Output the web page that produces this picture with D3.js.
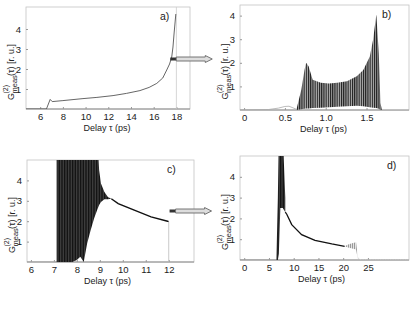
<!DOCTYPE html>
<html>
<head>
<meta charset="utf-8">
<script src="https://d3js.org/d3.v7.min.js"></script>
<style>
  body { margin: 0; background: #fff; }
  svg text { font-family: "Liberation Sans", Arial, sans-serif; fill: #222; }
</style>
</head>
<body>
<div id="chart"></div>
<script>
// ---- data ----
// panel a
const aX = [4.75, 6.55, 6.88, 7.06, 8.0, 9.77, 11.0, 12.42, 13.6, 14.79, 15.6, 16.27, 16.8, 17.15, 17.4, 17.59, 17.7, 17.8, 17.88, 17.95];
const aY = [0, 0, 0.48, 0.37, 0.42, 0.52, 0.58, 0.67, 0.78, 0.92, 1.08, 1.28, 1.55, 1.95, 2.25, 2.6, 3.1, 3.8, 4.3, 4.75];
const aMarker = 18;
const aTicks = [6, 8, 10, 12, 14, 16, 18];

// panel b
const bBaseX = [-0.05, 0.3, 0.42, 0.5, 0.55, 0.6, 0.65];
const bBaseY = [0, 0.02, 0.08, 0.15, 0.16, 0.09, 0.02];
const bEnvX = [0.64, 0.70, 0.74, 0.76, 0.79, 0.84, 0.94, 1.04, 1.14, 1.26, 1.38, 1.46, 1.54, 1.58, 1.62, 1.65, 1.67, 1.69];
const bUpper = [0, 0.85, 1.7, 2.0, 1.85, 1.28, 1.16, 1.12, 1.16, 1.22, 1.43, 1.7, 2.27, 2.98, 4.05, 2.4, 0.3, 0];
const bLower = [0, 0.03, 0.05, 0.06, 0.06, 0.08, 0.1, 0.12, 0.14, 0.16, 0.18, 0.16, 0.12, 0.1, 0.08, 0.05, 0, 0];
const bEndX = [1.69, 2.02];
const bEndY = [0, 0];
const bTicks = [0, 0.5, 1.0, 1.5];
const bTickLabels = ["0", "0.5", "1.0", "1.5"];

// panel c
const cBaseX = [5.83, 7.12];
const cBaseY = [0, 0];
const cEnvX = [7.12, 7.2, 7.5, 7.8, 8.0, 8.15, 8.3, 8.45, 8.6, 8.75, 8.9, 8.97, 9.05, 9.2, 9.35, 9.5];
const cUpper = [6, 6, 6, 6, 6, 6, 6, 6, 6, 6, 6, 4.5, 3.85, 3.43, 3.19, 3.1];
const cLower = [0, 0, 0, 0, 0.1, 0.26, 0, 0.92, 1.56, 2.13, 2.6, 2.8, 2.94, 3.07, 3.07, 3.1];
const cTailX = [9.5, 9.8, 10.5, 11.23, 11.95, 12.0];
const cTailY = [3.1, 2.86, 2.54, 2.21, 2.0, 1.98];
const cDropX = [12.0, 12.0];
const cDropY = [1.98, 0];
const cTicks = [6, 7, 8, 9, 10, 11, 12];

// panel d
const dBaseX = [-0.85, 6.5];
const dBaseY = [0, 0];
const dEnvX = [6.5, 6.8, 7.0, 7.3, 7.8, 8.3];
const dUpper = [0, 3, 6, 6, 6, 3.0];
const dLower = [0, 0, 0.3, 2.5, 2.5, 2.3];
const dTailX = [8.3, 8.6, 9.6, 11.6, 14.3, 17.7, 20.3];
const dTailY = [2.3, 2.2, 1.7, 1.22, 0.94, 0.77, 0.66];
const dFrX = [20.3, 21.0, 21.8, 22.6, 23.0];
const dFrUpper = [0.66, 0.75, 0.8, 0.85, 0.1];
const dFrLower = [0.66, 0.6, 0.55, 0.5, 0];
const dEndX = [23.0, 23.6, 33.3];
const dEndY = [0.1, 0, 0];
const dTicks = [0, 5, 10, 15, 20, 25];

const yTicks = [1, 2, 3, 4];

const W = 415, H = 312;
const svg = d3.select("#chart").append("svg").attr("width", W).attr("height", H);

const defs = svg.append("defs");
function stripes(id, w, dark, bg, colour) {
  const p = defs.append("pattern").attr("id", id).attr("patternUnits", "userSpaceOnUse")
    .attr("width", w).attr("height", 4);
  p.append("rect").attr("width", w).attr("height", 4).attr("fill", bg);
  p.append("rect").attr("width", dark).attr("height", 4).attr("fill", colour);
}
stripes("fringe", 2.2, 1.1, "#b0b0b0", "#1a1a1a");
stripes("fringeDark", 1.6, 1.0, "#555", "#0d0d0d");
stripes("fringeLight", 2.0, 1.0, "#e4e4e4", "#999");

let clipId = 0;

function panel(cfg) {
  const x = d3.scaleLinear().domain(cfg.xd).range([cfg.l, cfg.r]);
  const y = d3.scaleLinear().domain(cfg.yd).range([cfg.b, cfg.t]);
  const g = svg.append("g");
  const id = "clip" + (clipId++);
  defs.append("clipPath").attr("id", id).append("rect")
    .attr("x", cfg.l).attr("y", cfg.t).attr("width", cfg.r - cfg.l).attr("height", cfg.b - cfg.t);

  // frame
  g.append("rect").attr("x", cfg.l).attr("y", cfg.t).attr("width", cfg.r - cfg.l).attr("height", cfg.b - cfg.t)
    .attr("fill", "none").attr("stroke", "#c4c4c4").attr("stroke-width", 0.8);
  g.append("line").attr("x1", cfg.l).attr("x2", cfg.r).attr("y1", cfg.b).attr("y2", cfg.b)
    .attr("stroke", "#8a8a8a").attr("stroke-width", 1);

  // x axis
  const xa = d3.axisBottom(x).tickValues(cfg.xt).tickSize(-2).tickPadding(4)
    .tickFormat((d, i) => cfg.xl ? cfg.xl[i] : d);
  const gx = g.append("g").attr("transform", `translate(0,${cfg.b})`).call(xa);
  gx.select(".domain").remove();
  gx.selectAll("line").attr("stroke", "#999");
  gx.selectAll("text").attr("font-size", 9.5).style("font-family", "Liberation Sans, Arial, sans-serif").attr("fill", "#222");

  // y axis
  const ya = d3.axisLeft(y).tickValues(yTicks).tickSize(-2).tickPadding(5).tickFormat(d3.format("d"));
  const gy = g.append("g").attr("transform", `translate(${cfg.l},0)`).call(ya);
  gy.select(".domain").remove();
  gy.selectAll("line").attr("stroke", "#999");
  gy.selectAll("text").attr("font-size", 9.5).style("font-family", "Liberation Sans, Arial, sans-serif").attr("fill", "#222");

  // x label
  g.append("text").attr("x", (cfg.l + cfg.r) / 2 + cfg.xlOff).attr("y", cfg.b + 22)
    .attr("text-anchor", "middle").attr("font-size", 9).text("Delay \u03c4 (ps)");

  // y label (rotated, G with stacked (2) / meas)
  const yl = g.append("g").attr("transform", `translate(${cfg.l - 12.5},${(cfg.t + cfg.b) / 2 + 8}) rotate(-90)`);
  const x0 = -34;
  yl.append("text").attr("x", x0).attr("y", 0).attr("font-size", 9).text("G");
  yl.append("text").attr("x", x0 + 6.5).attr("y", -5.5).attr("font-size", 7).text("(2)");
  yl.append("text").attr("x", x0 + 6.5).attr("y", 3).attr("font-size", 7.5).text("meas");
  yl.append("text").attr("x", x0 + 24).attr("y", 0).attr("font-size", 9).text("(\u03c4) [r. u.]");

  // panel letter
  g.append("text").attr("x", cfg.r - cfg.tagOff).attr("y", cfg.t + 13).attr("font-size", 10.5).text(cfg.tag);

  const plot = g.append("g").attr("clip-path", `url(#${id})`);
  return { x, y, g, plot };
}

function line(p, xs, ys, color, w, dash) {
  const ln = d3.line().x(d => p.x(d[0])).y(d => p.y(d[1]));
  p.plot.append("path").attr("d", ln(d3.zip(xs, ys))).attr("fill", "none")
    .attr("stroke", color).attr("stroke-width", w).attr("stroke-dasharray", dash || null);
}

function band(p, xs, lo, hi, fill) {
  const ar = d3.area().x(d => p.x(d[0])).y0(d => p.y(d[1])).y1(d => p.y(d[2]));
  p.plot.append("path").attr("d", ar(d3.zip(xs, lo, hi))).attr("fill", fill).attr("stroke", "none");
}

function arrow(p, xv, yv) {
  const x0 = p.x(xv), y0 = p.y(yv);
  const g = svg.append("g");
  g.append("rect").attr("x", x0 - 1).attr("y", y0 - 1.5).attr("width", 6).attr("height", 3).attr("fill", "#333");
  g.append("path")
    .attr("d", `M${x0 + 5},${y0 - 2} H${x0 + 34} V${y0 - 3.5} L${x0 + 41},${y0} L${x0 + 34},${y0 + 3.5} V${y0 + 2} H${x0 + 5} Z`)
    .attr("fill", "#ddd").attr("stroke", "#666").attr("stroke-width", 0.9);
}

// ---- panel a ----
const pa = panel({ l: 26, r: 190, t: 7, b: 109, xd: [4.75, 19.2], yd: [0, 5.1], xt: aTicks, tag: "a)", tagOff: 30, xlOff: -1 });
pa.plot.append("line").attr("x1", pa.x(aMarker)).attr("x2", pa.x(aMarker)).attr("y1", pa.y(0)).attr("y2", pa.y(5.1))
  .attr("stroke", "#ccc").attr("stroke-width", 0.8);
line(pa, aX, aY, "#555", 0.9);
arrow(pa, 17.55, 2.5);

// ---- panel b ----
const pb = panel({ l: 240, r: 409, t: 5, b: 110, xd: [-0.05, 2.02], yd: [0, 4.45], xt: bTicks, xl: bTickLabels, tag: "b)", tagOff: 27, xlOff: -1 });
line(pb, bBaseX, bBaseY, "#aaa", 0.8);
line(pb, bEndX, bEndY, "#ccc", 0.8);
band(pb, bEnvX, bLower, bUpper, "url(#fringe)");

// ---- panel c ----
const pc = panel({ l: 27, r: 194, t: 160, b: 262, xd: [5.83, 13.1], yd: [0, 5], xt: cTicks, tag: "c)", tagOff: 27, xlOff: -3 });
line(pc, cBaseX, cBaseY, "#aaa", 0.8);
band(pc, cEnvX, cLower, cUpper, "url(#fringeDark)");
line(pc, cTailX, cTailY, "#111", 1.4);
line(pc, cDropX, cDropY, "#bbb", 0.8);
arrow(pc, 12.08, 2.5);

// ---- panel d ----
const pd = panel({ l: 240, r: 409, t: 156, b: 260, xd: [-0.85, 33.3], yd: [0, 5], xt: dTicks, tag: "d)", tagOff: 22, xlOff: -3 });
line(pd, dBaseX, dBaseY, "#999", 0.8);
band(pd, dEnvX, dLower, dUpper, "url(#fringeDark)");
line(pd, dTailX, dTailY, "#111", 1.3);
band(pd, dFrX, dFrLower, dFrUpper, "url(#fringeLight)");
line(pd, dEndX, dEndY, "#ccc", 0.8, "1.5,1");
</script>
</body>
</html>
